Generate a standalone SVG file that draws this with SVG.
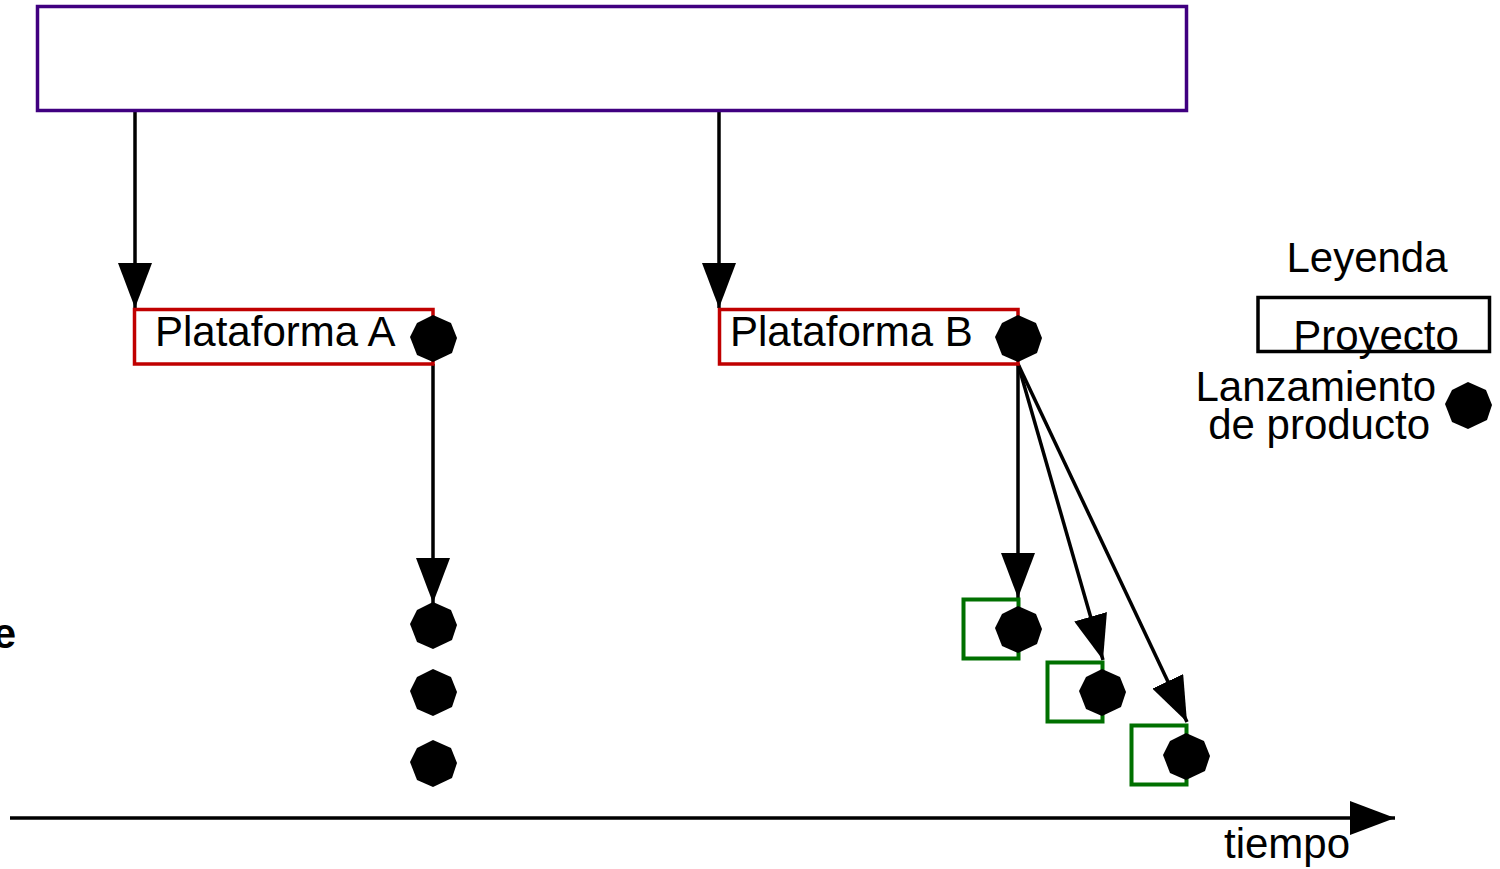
<svg xmlns="http://www.w3.org/2000/svg" xmlns:xlink="http://www.w3.org/1999/xlink" width="1500" height="869" viewBox="0 0 1500 869">
<style>
text{font-family:"Liberation Sans",Arial,sans-serif;font-size:42px;fill:#000}
.conn{stroke:#000;stroke-width:3.5;fill:none}
.plat{fill:none;stroke:#c00000;stroke-width:3.5}
.proj{fill:none;stroke:#007000;stroke-width:4}
</style>
<defs>
<marker id="ah" viewBox="0 0 45 34" refX="45" refY="17" markerWidth="45" markerHeight="34" markerUnits="userSpaceOnUse" orient="auto">
<path d="M0,0 L45,17 L0,34 Z" fill="#000"/>
</marker>
<polygon id="dot" points="0,-23 18,-15 24,0 19,15 0,24 -16,17 -23,-1 -16,-15" fill="#000"/>
</defs>
<rect width="1500" height="869" fill="#fff"/>
<g id="connectors">
<line class="conn" x1="135" y1="111" x2="135" y2="308" marker-end="url(#ah)"/>
<line class="conn" x1="719" y1="111" x2="719" y2="308" marker-end="url(#ah)"/>
<line class="conn" x1="433" y1="364" x2="433" y2="603" marker-end="url(#ah)"/>
<line class="conn" x1="1018" y1="364" x2="1018" y2="598" marker-end="url(#ah)"/>
<line class="conn" x1="1018" y1="364" x2="1103" y2="660" marker-end="url(#ah)"/>
<line class="conn" x1="1018" y1="364" x2="1187" y2="722" marker-end="url(#ah)"/>
<line class="conn" x1="10" y1="818" x2="1395" y2="818" marker-end="url(#ah)"/>
</g>
<g id="top"><rect x="37.5" y="6.5" width="1149" height="104" fill="none" stroke="#400080" stroke-width="3.5"/></g>
<g id="platA"><rect class="plat" x="134.5" y="309.5" width="298.5" height="54.5"/><text x="155" y="346">Plataforma A</text><use xlink:href="#dot" x="433" y="338"/></g>
<g id="platB"><rect class="plat" x="719.5" y="309.5" width="298.5" height="54.5"/><text x="730" y="346">Plataforma B</text><use xlink:href="#dot" x="1018" y="338"/></g>
<g id="launchA1"><use xlink:href="#dot" x="433" y="625"/></g>
<g id="launchA2"><use xlink:href="#dot" x="433" y="692"/></g>
<g id="launchA3"><use xlink:href="#dot" x="433" y="763"/></g>
<g id="projB1"><rect class="proj" x="963.5" y="599.5" width="55" height="59"/><use xlink:href="#dot" x="1018" y="629"/></g>
<g id="projB2"><rect class="proj" x="1047.5" y="662.5" width="55" height="59"/><use xlink:href="#dot" x="1102" y="692"/></g>
<g id="projB3"><rect class="proj" x="1131.5" y="725.5" width="55" height="59"/><use xlink:href="#dot" x="1186" y="756"/></g>
<g id="axislabel"><text x="1224" y="858">tiempo</text></g>
<g id="cut"><text x="16" y="648" text-anchor="end" font-weight="bold">e</text></g>
<g id="legend">
<text x="1367" y="272" text-anchor="middle">Leyenda</text>
<rect x="1258" y="297.5" width="231.5" height="54" fill="none" stroke="#000" stroke-width="3.5"/>
<text x="1376" y="350" text-anchor="middle">Proyecto</text>
<text x="1436" y="401" text-anchor="end">Lanzamiento</text>
<text x="1430" y="439" text-anchor="end">de producto</text>
<use xlink:href="#dot" x="1468" y="405"/>
</g>
</svg>
